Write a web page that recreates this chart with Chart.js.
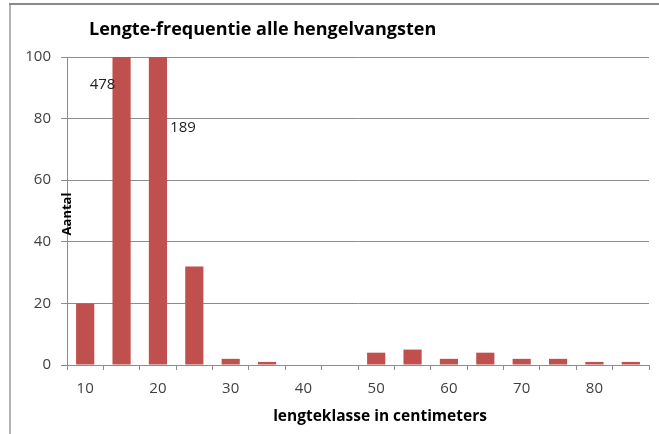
<!DOCTYPE html>
<html>
<head>
<meta charset="utf-8">
<script src="https://cdn.jsdelivr.net/npm/chart.js@4"></script>
<style>
  body { margin: 0; background: #fff; }
  #wrap { width: 659px; height: 434px; }
</style>
</head>
<body>
<div id="wrap"><canvas id="lengteChart" width="659" height="434"></canvas></div>
<script>
// lengteklassen (cm) en aantallen
var lengteklassen = [10, 15, 20, 25, 30, 35, 40, 45, 50, 55, 60, 65, 70, 75, 80, 85];
var aantallen = [20, 478, 189, 32, 2, 1, 0, 0, 4, 5, 2, 4, 2, 2, 1, 1];
var yTicks = [0, 20, 40, 60, 80, 100];
var chartTitle = 'Lengte-frequentie alle hengelvangsten';
var xTitle = 'lengteklasse in centimeters';
var yTitle = 'Aantal';

var barColor = '#C0504D';
var lineColor = '#8c8c8c';
var font = '"Open Sans", Lato, sans-serif';

// labels voor de balken die boven de as uitsteken
var overflowLabels = [
    { index: 1, dx: -19, at: 91 },
    { index: 2, dx: 25, at: 77 }
];

// eigen tekeningen: kader, titels en labels
var decorPlugin = {
    id: 'decor',
    beforeDraw: function (chart) {
        var c = chart.ctx;
        c.save();
        c.fillStyle = '#fff';
        c.fillRect(0, 0, chart.width, chart.height);
        c.strokeStyle = '#b4b4b4';
        c.lineWidth = 2;
        c.beginPath();
        c.moveTo(10, 434);
        c.lineTo(10, 5);
        c.stroke();
        c.strokeStyle = '#8a8a8a';
        c.beginPath();
        c.moveTo(9, 4);
        c.lineTo(659, 4);
        c.stroke();
        c.restore();
    },
    afterDraw: function (chart) {
        var c = chart.ctx;
        var area = chart.chartArea;
        var yScale = chart.scales.y;
        var meta = chart.getDatasetMeta(0);
        c.save();
        c.fillStyle = '#000';
        c.textBaseline = 'middle';

        c.font = 'bold 18px ' + font;
        c.textAlign = 'left';
        c.fillText(chartTitle, 89, 30);

        c.font = 'bold 15.5px ' + font;
        c.textAlign = 'center';
        c.fillText(xTitle, 380, 417);

        c.save();
        c.translate(area.left, (area.top + area.bottom) / 2 + 3);
        c.rotate(-Math.PI / 2);
        c.font = 'bold 13px ' + font;
        c.fillText(yTitle, 0, 0);
        c.restore();

        c.font = '15px ' + font;
        c.fillStyle = '#222';
        overflowLabels.forEach(function (l) {
            var bar = meta.data[l.index];
            c.fillText(String(aantallen[l.index]), bar.x + l.dx, yScale.getPixelForValue(l.at));
        });
        c.restore();
    }
};

var ctx = document.getElementById('lengteChart').getContext('2d');
var lengteChart = new Chart(ctx, {
    type: 'bar',
    data: {
        labels: lengteklassen,
        datasets: [{
            label: yTitle,
            data: aantallen,
            backgroundColor: barColor,
            borderWidth: 0,
            categoryPercentage: 1,
            barPercentage: 0.5
        }]
    },
    options: {
        responsive: false,
        animation: false,
        devicePixelRatio: 1,
        layout: { padding: { left: 10, right: 10, top: 57, bottom: 0 } },
        plugins: {
            legend: { display: false },
            title: { display: false },
            tooltip: { enabled: false }
        },
        scales: {
            x: {
                grid: {
                    offset: true,
                    drawOnChartArea: false,
                    drawTicks: true,
                    tickLength: 5,
                    color: lineColor
                },
                border: { color: lineColor },
                ticks: {
                    autoSkip: false,
                    maxRotation: 0,
                    padding: 10,
                    color: '#404040',
                    font: { family: font, size: 15 },
                    callback: function (value, index) {
                        var v = lengteklassen[index];
                        return v % 10 === 0 ? String(v) : '';
                    }
                },
                afterFit: function (scale) { scale.height = 69; }
            },
            y: {
                min: 0,
                max: 100,
                afterBuildTicks: function (scale) {
                    scale.ticks = yTicks.map(function (v) { return { value: v }; });
                },
                grid: {
                    color: lineColor,
                    tickLength: 6
                },
                border: { color: lineColor },
                ticks: {
                    padding: 10,
                    color: '#404040',
                    font: { family: font, size: 15 }
                },
                afterFit: function (scale) { scale.width = 57; }
            }
        }
    },
    plugins: [decorPlugin]
});
</script>
</body>
</html>
